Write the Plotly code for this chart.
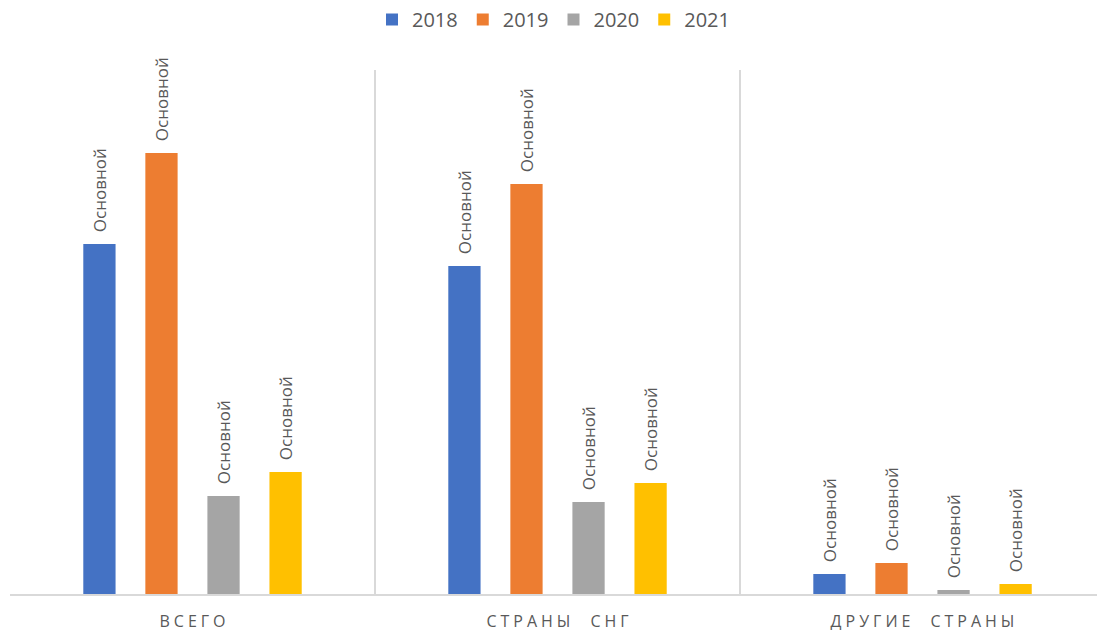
import plotly.graph_objects as go

categories = ["ВСЕГО", "СТРАНЫ СНГ", "ДРУГИЕ СТРАНЫ"]
tick_labels = ["В\u2005С\u2005Е\u2005Г\u2005О", "С\u2005Т\u2005Р\u2005А\u2005Н\u2005Ы\u2003\u2005С\u2005Н\u2005Г",
               "Д\u2005Р\u2005У\u2005Г\u2005И\u2005Е\u2003\u2005С\u2005Т\u2005Р\u2005А\u2005Н\u2005Ы"]
years = ["2018", "2019", "2020", "2021"]
v2018 = [350, 328, 20]
v2019 = [441, 410, 31]
v2020 = [98, 92, 4]
v2021 = [122, 111, 10]
series = [v2018, v2019, v2020, v2021]
colors = ["#4472C4", "#ED7D31", "#A5A5A5", "#FFC000"]
label = "Основной"

fig = go.Figure()
for name, vals, c in zip(years, series, colors):
    fig.add_trace(go.Bar(
        x=categories, y=vals, name=name, marker=dict(color=c, line=dict(width=0)),
        text=["\u00a0\u00a0" + label] * len(vals), textposition="outside", textangle=-90,
        textfont=dict(family="Open Sans", size=17, color="#595959"),
        constraintext="none", cliponaxis=False,
    ))

fig.update_layout(
    width=1097, height=635,
    margin=dict(l=10, r=0, t=70, b=41),
    paper_bgcolor="white", plot_bgcolor="white",
    barmode="group", bargap=0.32, bargroupgap=0.48,
    font=dict(family="Open Sans", color="#595959"),
    legend=dict(orientation="h", x=0.5, xanchor="center", y=1.0, yanchor="top",
                yref="container", font=dict(size=20, color="#595959"),
                itemwidth=30, tracegroupgap=0),
    showlegend=True,
)
fig.update_xaxes(
    type="category", tickmode="array", tickvals=categories, ticktext=tick_labels,
    tickson="boundaries", showgrid=True, gridcolor="#D9D9D9", gridwidth=1.5,
    showline=True, linecolor="#D9D9D9", linewidth=1.5, ticks="",
    ticklabelstandoff=12,
    tickfont=dict(size=16, color="#595959"), range=[-0.5, 2.478],
)
fig.update_yaxes(range=[0, 524], visible=False, showgrid=False, zeroline=False)

fig.write_html("out.html")
